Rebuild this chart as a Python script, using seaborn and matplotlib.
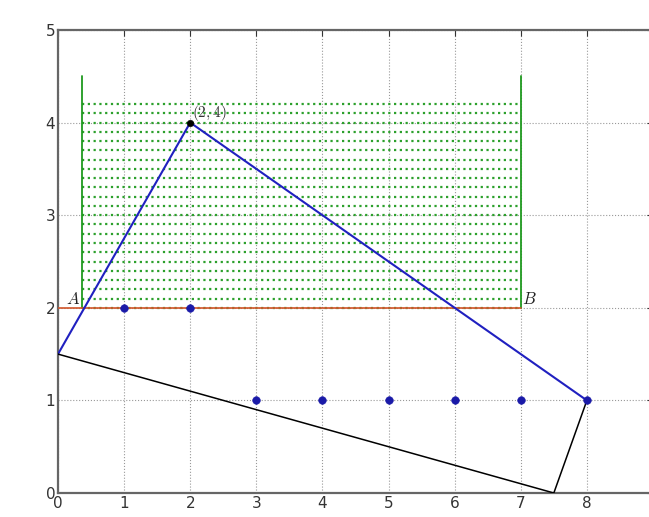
import numpy as np
import pandas as pd
import matplotlib
matplotlib.use("Agg")
import matplotlib.pyplot as plt
import seaborn as sns

# polyline vertices
blue_x = [0, 2, 8]
blue_y = [1.5, 4, 1]
black_x = [8, 7.5, 0]
black_y = [1, 0, 1.5]

# points
pts_x = [1, 2, 3, 4, 5, 6, 7, 8]
pts_y = [2, 2, 1, 1, 1, 1, 1, 1]
peak = (2, 4)

# segment AB and the green band above it
ab_x = [0, 7]
ab_y = [2, 2]
wall_x = [0.36, 7]
wall_y = [2, 4.5]
band_rows = [round(2.0 + 0.1 * i, 1) for i in range(23)]  # 2.0 .. 4.2

sns.set_style("white")
plt.rcParams["font.family"] = ["DejaVu Sans"]
plt.rcParams["mathtext.fontset"] = "cm"

fig = plt.figure(figsize=(6.49, 5.17), dpi=100)
ax = fig.add_axes([58 / 649, 24 / 517, 595 / 649, 463 / 517])

ax.grid(True, color="#999999", linestyle=":", linewidth=0.8)
ax.set_axisbelow(True)

# green dotted band
for y in band_rows:
    ax.plot([wall_x[0], wall_x[1]], [y, y], color="#2ca02c",
            linestyle=(0, (1, 1.6)), linewidth=1.6, dash_capstyle="butt", zorder=2)
for x in wall_x:
    ax.plot([x, x], wall_y, color="#1f9a1f", linewidth=1.3, zorder=3)

# AB segment
ax.plot(ab_x, ab_y, color="#d2552a", linewidth=1.2, zorder=3)
ax.text(0.12, 2.0, "$A$", fontsize=12, ha="left", va="bottom", color="#222222")
ax.text(7.02, 2.0, "$B$", fontsize=12, ha="left", va="bottom", color="#222222")

# polylines
sns.lineplot(x=blue_x, y=blue_y, sort=False, estimator=None, color="#2020c0",
             linewidth=1.5, ax=ax, zorder=4)
sns.lineplot(x=black_x, y=black_y, sort=False, estimator=None, color="black",
             linewidth=1.1, ax=ax, zorder=4)

# points
sns.scatterplot(x=pts_x, y=pts_y, color="#1a1aa8", s=30, edgecolor="#1a1aa8",
                ax=ax, zorder=5)
sns.scatterplot(x=[peak[0]], y=[peak[1]], color="black", s=22, edgecolor="black",
                ax=ax, zorder=5)
ax.text(peak[0] + 0.02, peak[1], "$(2,4)$", fontsize=11, ha="left", va="bottom",
        color="#333333")

ax.set_xlim(0, 9)
ax.set_ylim(0, 5)
ax.set_xticks(range(0, 9))
ax.set_yticks(range(0, 6))
ax.tick_params(labelsize=11, colors="#333333", length=4, direction="in",
               top=True, right=True, pad=2)
for s in ax.spines.values():
    s.set_color("#666666")
    s.set_linewidth(1.6)

fig.savefig("out.png", dpi=100)
